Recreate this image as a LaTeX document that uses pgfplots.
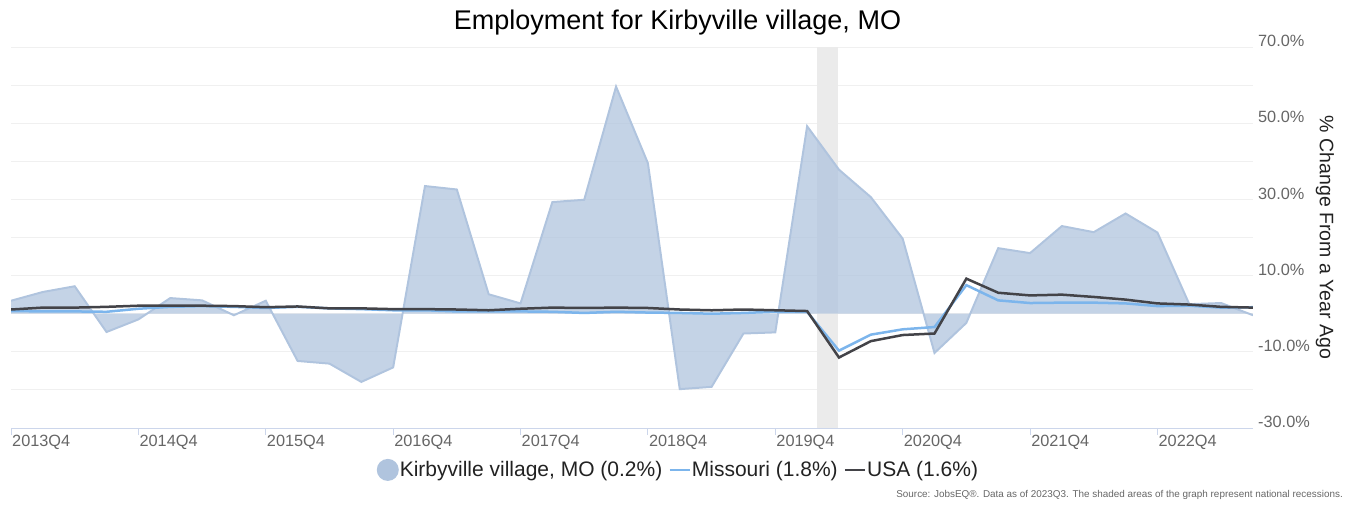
\documentclass[border=0pt]{standalone}
\usepackage{pgfplots}
\usepackage{pgfplotstable}
\pgfplotsset{compat=1.18}
\usepackage{fontspec}
\setmainfont{Liberation Sans}
\definecolor{areaC}{RGB}{176,196,222}
\definecolor{moC}{RGB}{124,181,236}
\definecolor{usaC}{RGB}{67,67,72}
\definecolor{gridC}{RGB}{240,240,240}
\definecolor{axisC}{RGB}{204,214,235}
\definecolor{tickC}{RGB}{102,102,102}
\definecolor{bandC}{RGB}{235,235,235}
\definecolor{textC}{RGB}{34,34,34}

\pgfplotstableread{
i kv mo usa
0 3.4 0.7 1.1
1 5.7 0.6 1.6
2 7.2 0.6 1.6
3 -4.8 0.5 1.8
4 -1.5 1.3 2.1
5 4.1 1.8 2.1
6 3.5 2.0 2.1
7 -0.4 1.8 2.0
8 3.4 1.5 1.7
9 -12.4 1.8 1.9
10 -13.1 1.4 1.4
11 -17.9 1.2 1.4
12 -14.1 0.9 1.2
13 33.5 0.9 1.2
14 32.6 0.6 1.1
15 5.1 0.6 0.9
16 2.7 0.6 1.3
17 29.3 0.5 1.6
18 29.9 0.2 1.5
19 59.6 0.5 1.6
20 39.5 0.3 1.5
21 -19.8 0.2 1.1
22 -19.2 0.0 0.9
23 -5.2 0.2 1.1
24 -4.9 0.5 0.9
25 49.2 0.5 0.7
26 37.8 -9.7 -11.5
27 30.6 -5.5 -7.2
28 19.7 -4.1 -5.6
29 -10.3 -3.5 -5.2
30 -2.4 7.5 9.2
31 17.2 3.5 5.5
32 15.9 2.8 4.8
33 23.0 2.9 5.0
34 21.4 2.9 4.4
35 26.3 2.7 3.7
36 21.3 2.0 2.7
37 2.5 2.1 2.4
38 2.8 1.6 1.8
39 -0.4 1.7 1.6
}\datatable

\begin{document}
\begin{tikzpicture}[x=1pt,y=1pt]
\useasboundingbox (0,0) rectangle (1348,504);
\begin{axis}[
  at={(11pt,76pt)}, anchor=south west,
  scale only axis, width=1242pt, height=381pt,
  xmin=0, xmax=39, ymin=-30, ymax=70,
  axis x line*=bottom, axis y line*=right,
  x axis line style={draw=axisC, line width=1pt, -},
  y axis line style={draw=none},
  xtick={0,4,...,36},
  xticklabels={2013Q4,2014Q4,2015Q4,2016Q4,2017Q4,2018Q4,2019Q4,2020Q4,2021Q4,2022Q4},
  xtick style={draw=axisC, line width=1pt},
  tick align=outside, major tick length=7pt,
  xticklabel style={anchor=north west, inner sep=0pt, xshift=1pt, font=\fontsize{16.3}{18}\selectfont, text=tickC},
  ytick={-30,-10,...,70},
  yticklabels={-30.0\%,-10.0\%,10.0\%,30.0\%,50.0\%,70.0\%},
  extra y ticks={-20,0,20,40,60},
  extra y tick labels={},
  ytick style={draw=none},
  extra y tick style={ytick style={draw=none}},
  ymajorgrids=true,
  major grid style={draw=gridC, line width=1pt},
  yticklabel pos=right,
  yticklabel style={anchor=south west, inner sep=0pt, xshift=-2pt, font=\fontsize{16.3}{18}\selectfont, text=tickC},
  legend image code/.code={\draw[#1] (0pt,0pt) -- (20pt,0pt);},
  legend style={at={(rel axis cs:0.537,-0.11)}, anchor=center, draw=none, fill=none,
    legend columns=3, font=\fontsize{21}{24}\selectfont, text=textC,
    /tikz/every even column/.append style={column sep=5pt},
    nodes={inner sep=1pt}},
  clip=true,
]
\addplot[draw=none, fill=bandC, forget plot] coordinates {(25.3,-30) (25.3,70) (25.97,70) (25.97,-30)} -- cycle;
\addplot[draw=none, fill=areaC, fill opacity=0.75, forget plot] table[x=i,y=kv] {\datatable} \closedcycle;
\addplot[areaC, line width=2pt, legend image code/.code={\fill[areaC] (10pt,0pt) circle (10pt);}] table[x=i,y=kv] {\datatable};
\addlegendentry{Kirbyville village, MO (0.2\%)}
\addplot[moC, line width=2.5pt] table[x=i,y=mo] {\datatable};
\addlegendentry{Missouri (1.8\%)}
\addplot[usaC, line width=2.5pt] table[x=i,y=usa] {\datatable};
\addlegendentry{USA (1.6\%)}
\end{axis}
\node[anchor=base, font=\fontsize{27}{30}\selectfont, text=black] at (677.5,474) {Employment for Kirbyville village, MO};
\node[rotate=-90, anchor=center, font=\fontsize{19.5}{22}\selectfont, text=textC] at (1325,266.5) {\% Change From a Year Ago};
\node[anchor=base east, font=\fontsize{9.9}{11}\selectfont, text=tickC, inner sep=0pt] at (1343,7) {Source: JobsEQ®. Data as of 2023Q3. The shaded areas of the graph represent national recessions.};
\end{tikzpicture}
\end{document}
